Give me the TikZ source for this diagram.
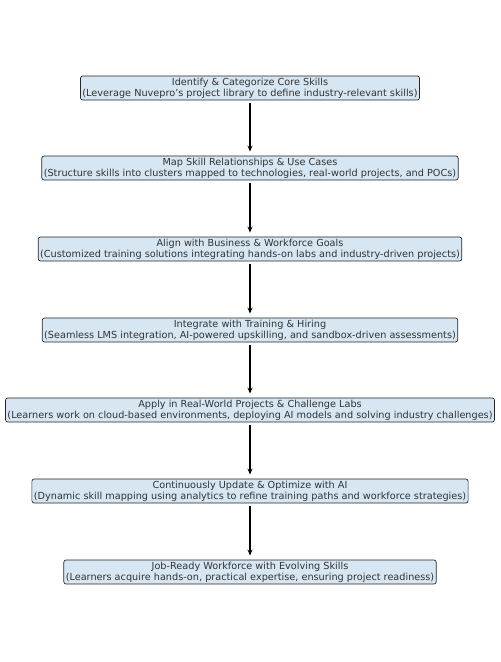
\documentclass[tikz,border=0pt]{standalone}
\usepackage{fontspec}
\setmainfont{DejaVu Sans}
\usetikzlibrary{arrows.meta,positioning}

\begin{document}
\begin{tikzpicture}[
  x=1pt,y=1pt,
  stage/.style={draw=black!85,rounded corners=2.5pt,fill={rgb,255:red,214;green,230;blue,242},
                align=center,font=\fontsize{9.7}{11.2}\selectfont,text=black!80,
                inner xsep=2pt,inner ysep=1.8pt,line width=.7pt},
  flow/.style={-{Stealth[length=6pt,width=5pt]},line width=1.4pt,shorten <=3pt,shorten >=4pt}
]
  \useasboundingbox (0,0) rectangle (501,662);
  \node[stage] (identify) at (250,574)
    {Identify \& Categorize Core Skills\\(Leverage Nuvepro’s project library to define industry-relevant skills)};
  \node[stage] (map) at (250,494)
    {Map Skill Relationships \& Use Cases\\(Structure skills into clusters mapped to technologies, real-world projects, and POCs)};
  \node[stage] (align) at (250,413)
    {Align with Business \& Workforce Goals\\(Customized training solutions integrating hands-on labs and industry-driven projects)};
  \node[stage] (integrate) at (250,332)
    {Integrate with Training \& Hiring\\(Seamless LMS integration, AI-powered upskilling, and sandbox-driven assessments)};
  \node[stage] (apply) at (250,252)
    {Apply in Real-World Projects \& Challenge Labs\\(Learners work on cloud-based environments, deploying AI models and solving industry challenges)};
  \node[stage] (optimize) at (250,171)
    {Continuously Update \& Optimize with AI\\(Dynamic skill mapping using analytics to refine training paths and workforce strategies)};
  \node[stage] (ready) at (250,90)
    {Job-Ready Workforce with Evolving Skills\\(Learners acquire hands-on, practical expertise, ensuring project readiness)};
  \draw[flow] (identify) -- (map);
  \draw[flow] (map) -- (align);
  \draw[flow] (align) -- (integrate);
  \draw[flow] (integrate) -- (apply);
  \draw[flow] (apply) -- (optimize);
  \draw[flow] (optimize) -- (ready);
\end{tikzpicture}
\end{document}
